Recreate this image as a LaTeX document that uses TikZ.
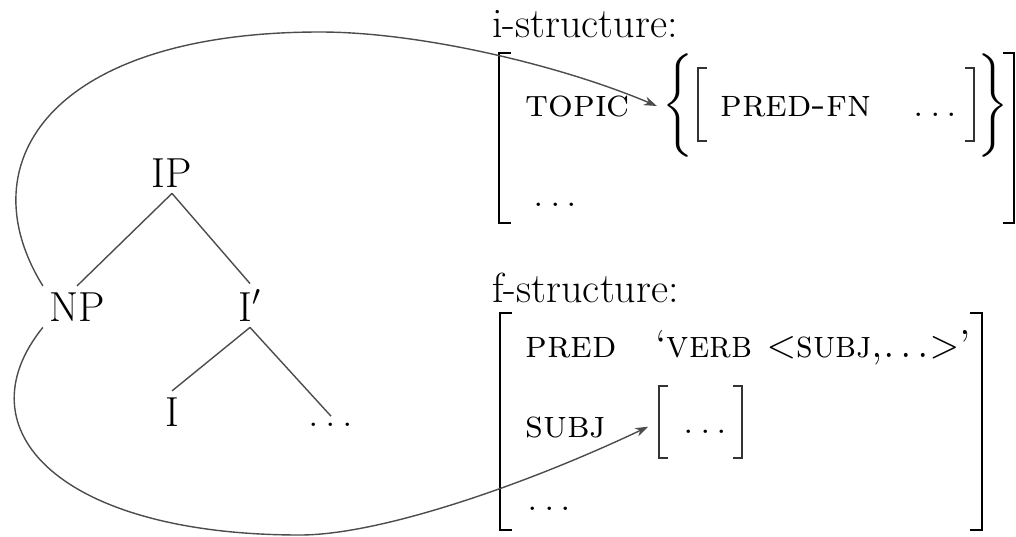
\documentclass[tikz,border=0pt]{standalone}
\usepackage{amsmath}
\usepackage{graphicx}
\usepackage{tikz}
\usetikzlibrary{arrows.meta}

% spaced ellipsis as in the matrices
\newcommand{\mydots}{.\kern.15em.\kern.15em.}
\newcommand{\feat}{\fontsize{19.5}{24}\selectfont\scshape}
\newcommand{\tallbrace}[2]{\scalebox{1}[1.04]{$\left#1\vcenter{\hbox{\vrule height 25pt depth 25pt width 0pt}}\right#2$}}

\tikzset{
  cat/.style={anchor=base, inner sep=3pt},
  word/.style={anchor=base west, inner sep=0pt},
  branch/.style={draw=black!70, line width=0.7pt},
  link/.style={draw=black!70, line width=0.7pt, -{Stealth[length=6.5pt,width=4.5pt]}},
  bracket/.style={line width=1.2pt},
  inbracket/.style={draw=black!80, line width=0.8pt},
}

\begin{document}
\begin{tikzpicture}[x=0.5pt, y=-0.5pt, font=\fontsize{21}{25}\selectfont]
\useasboundingbox (0,0) rectangle (1016,536);

% phrase structure
\node[cat] (ip) at (172,187) {IP};
\node[cat] (np) at (77,321) {NP};
\node[cat] (ibar) at (250,321) {I$'$};
\node[cat] (i) at (172,426) {I};
\node[cat] (rest) at (331,426) {\mydots};

\draw[branch] (ip.south) -- (np.north);
\draw[branch] (ip.south) -- (ibar.north);
\draw[branch] (ibar.south) -- (i.north);
\draw[branch] (ibar.south) -- (rest.north);

% i-structure
\node[word] (ilabel) at (492,37) {i-structure:};
\node[word] (topic) at (525,116) {\feat topic};
\node[inner xsep=2.5pt, inner ysep=0pt] (lbrace) at (679,106) {\tallbrace{\{}{.}};
\node[word] (predfn) at (720,116) {\feat pred-fn};
\node[word] (fnrest) at (913,116) {\mydots};
\node[inner xsep=2.5pt, inner ysep=0pt] (rbrace) at (992,106) {\tallbrace{.}{\}}};
\node[word] (irest) at (533,206) {\mydots};

\draw[bracket] (511,53) -- (499,53) -- (499,223) -- (511,223);
\draw[bracket] (1003,53) -- (1014,53) -- (1014,223) -- (1003,223);
\draw[inbracket] (707,68) -- (698,68) -- (698,141) -- (707,141);
\draw[inbracket] (965,68) -- (974,68) -- (974,141) -- (965,141);

% f-structure
\node[word] (flabel) at (492,302) {f-structure:};
\node[word] (pred) at (525,357) {\feat pred};
\node[word] (predval) at (655,357) {\scalebox{0.93}[1]{\feat `verb <subj,\mydots>'}};
\node[word] (subj) at (525,437) {\feat subj};
\node[minimum width=41.5pt, minimum height=36pt, inner sep=0pt] (subjval) at (700,422) {};
\node[word] (subjrest) at (683,433) {\mydots};
\node[word] (frest) at (527,510) {\mydots};

\draw[bracket] (512,313) -- (500,313) -- (500,530) -- (512,530);
\draw[bracket] (970,313) -- (982,313) -- (982,530) -- (970,530);
\draw[inbracket] (668,386) -- (659,386) -- (659,458) -- (668,458);
\draw[inbracket] (733,386) -- (742,386) -- (742,458) -- (733,458);

% links from NP
\draw[link] (np.north west) .. controls (-35,160) and (55,32) .. (320,32)
  .. controls (420,32) and (560,65) .. (lbrace.west);
\draw[link, shorten >=5.5pt] (np.south west) .. controls (-40,430) and (60,535) .. (300,535)
  .. controls (380,535) and (525,485) .. (subjval.west);
\end{tikzpicture}
\end{document}
